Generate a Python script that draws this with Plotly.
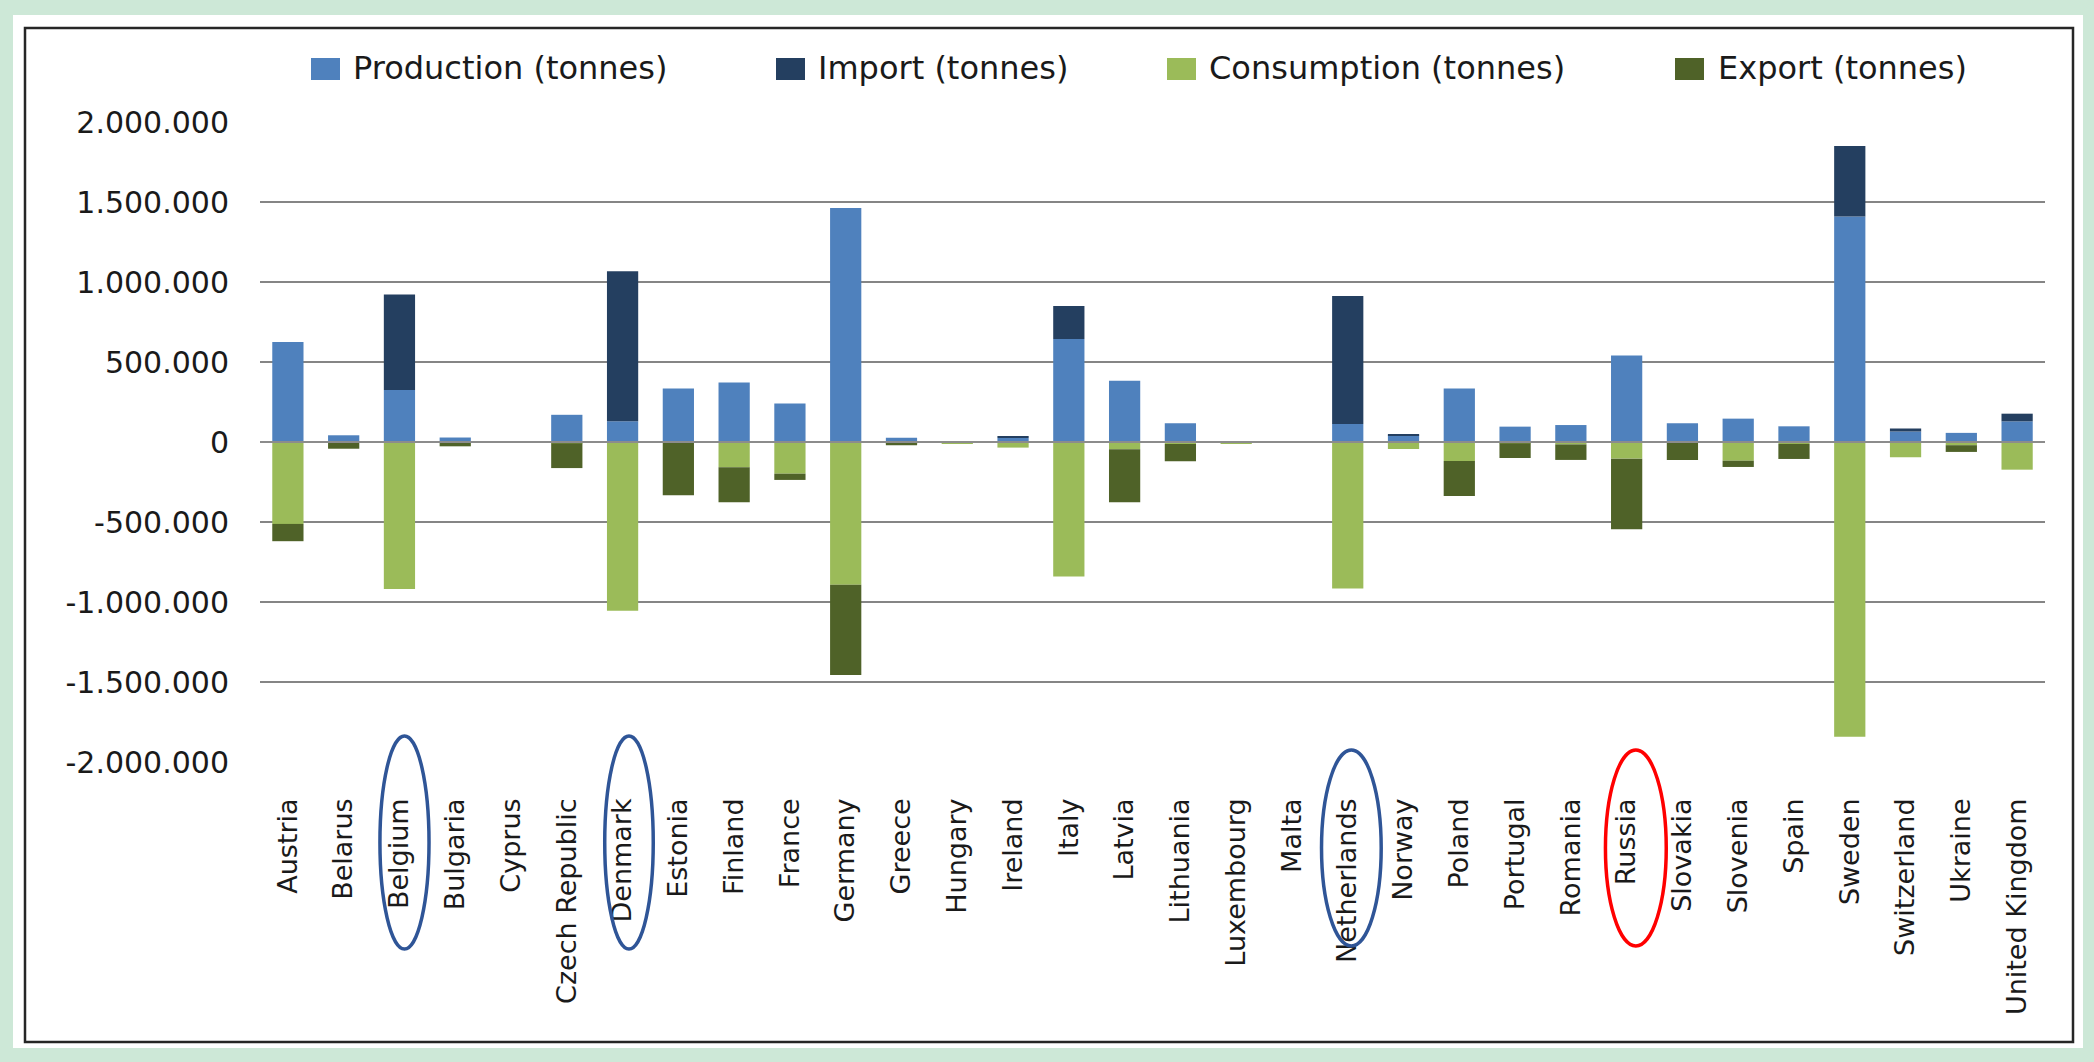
import plotly.graph_objects as go

countries = ["Austria", "Belarus", "Belgium", "Bulgaria", "Cyprus", "Czech Republic", "Denmark",
             "Estonia", "Finland", "France", "Germany", "Greece", "Hungary", "Ireland", "Italy",
             "Latvia", "Lithuania", "Luxembourg", "Malta", "Netherlands", "Norway", "Poland",
             "Portugal", "Romania", "Russia", "Slovakia", "Slovenia", "Spain", "Sweden",
             "Switzerland", "Ukraine", "United Kingdom"]

production = [625000, 42000, 325000, 28000, 0, 170000, 129000, 335000, 372000, 241000, 1463000,
              27000, 5000, 25000, 643000, 383000, 117000, 0, 0, 113000, 40000, 335000, 96000,
              106000, 541000, 117000, 146000, 98000, 1409000, 65000, 57000, 129000]
imports = [0, 0, 597000, 0, 0, 0, 938000, 0, 0, 0, 0, 0, 0, 10000, 207000, 0, 0, 0, 0, 800000,
           6000, 0, 0, 0, 0, 0, 0, 0, 441000, 20000, 0, 48000]
consumption = [-512000, 0, -918000, -5000, 0, -8000, -1055000, 0, -158000, -198000, -892000,
               -8000, -10000, -35000, -840000, -46000, -12000, -10000, 0, -916000, -44000,
               -119000, -8000, -15000, -104000, -5000, -117000, -12000, -1842000, -96000,
               -20000, -173000]
exports = [-108000, -42000, 0, -22000, 0, -155000, 0, -333000, -219000, -39000, -564000, -12000,
           0, 0, 0, -331000, -108000, 0, 0, 0, 0, -218000, -92000, -97000, -441000, -108000,
           -39000, -94000, 0, 0, -42000, 0]

series_names = ["Production (tonnes)", "Import (tonnes)", "Consumption (tonnes)", "Export (tonnes)"]
series_colors = ["#4F81BD", "#243F60", "#9BBB59", "#4F6228"]

y_tickvals = [2000000, 1500000, 1000000, 500000, 0, -500000, -1000000, -1500000, -2000000]
y_ticktext = ["2.000.000", "1.500.000", "1.000.000", "500.000", "0", "-500.000",
              "-1.000.000", "-1.500.000", "-2.000.000"]

highlight_countries = ["Belgium", "Denmark", "Netherlands", "Russia"]
highlight_colors = ["#2F5597", "#2F5597", "#2F5597", "#FF0000"]

W, H = 2094, 1062
L, R, T, B = 260, 49, 122, 300
PW, PH = W - L - R, H - T - B


def px(x):
    return (x - L) / PW


def py(y):
    return (H - B - y) / PH


FONT = "DejaVu Sans"

fig = go.Figure()
for name, vals, col in zip(series_names, [production, imports, consumption, exports], series_colors):
    fig.add_trace(go.Bar(x=countries, y=vals, name=name, marker=dict(color=col, line=dict(width=0)),
                         showlegend=False))

shapes = []
# outer frame: white inner area on green background, black border
shapes.append(dict(type="rect", xref="paper", yref="paper", x0=px(13), x1=px(2083), y0=py(15), y1=py(1048),
                   fillcolor="white", line=dict(width=0), layer="below"))
shapes.append(dict(type="rect", xref="paper", yref="paper", x0=px(25), x1=px(2073), y0=py(28), y1=py(1042),
                   fillcolor="rgba(0,0,0,0)", line=dict(color="#262626", width=2.5), layer="below"))
# zero line over bars
shapes.append(dict(type="line", xref="paper", yref="y", x0=0, x1=1, y0=0, y1=0,
                   line=dict(color="#8C8C8C", width=2), layer="above"))

# custom legend
legend_marker_x = [311, 776, 1167, 1675]
legend_text_x = [351, 816, 1207, 1716]
annotations = []
for name, col, mx, tx in zip(series_names, series_colors, legend_marker_x, legend_text_x):
    shapes.append(dict(type="rect", xref="paper", yref="paper", x0=px(mx), x1=px(mx + 29),
                       y0=py(80), y1=py(58), fillcolor=col, line=dict(width=0)))
    annotations.append(dict(xref="paper", yref="paper", x=px(tx), y=py(68), text=name,
                            showarrow=False, xanchor="left", yanchor="middle",
                            font=dict(family=FONT, size=32, color="#1A1A1A")))

# highlight ellipses around category labels
ell_offsets = [(-0.35, 0.53, 736, 949), (-0.32, 0.55, 736, 949), (-0.47, 0.60, 750, 946),
               (-0.38, 0.71, 750, 946)]
for c, col, (d0, d1, yt, yb) in zip(highlight_countries, highlight_colors, ell_offsets):
    i = countries.index(c)
    shapes.append(dict(type="circle", xref="x", yref="paper", x0=i + d0, x1=i + d1,
                       y0=py(yb), y1=py(yt), line=dict(color=col, width=3.5), layer="above"))

fig.update_layout(
    width=W, height=H,
    margin=dict(l=L, r=R, t=T, b=B, pad=0),
    barmode="relative",
    bargap=0.44,
    paper_bgcolor="#CDE8D7",
    plot_bgcolor="white",
    shapes=shapes,
    annotations=annotations,
    showlegend=False,
    font=dict(family=FONT, color="#1A1A1A"),
)
fig.update_xaxes(
    type="category", tickangle=-90, showgrid=False, showline=False, zeroline=False,
    ticks="", ticklabelstandoff=30, tickfont=dict(family=FONT, size=27, color="#1A1A1A"),
)
fig.update_yaxes(
    range=[-2000000, 2000000], tickvals=y_tickvals, ticktext=y_ticktext,
    showgrid=True, gridcolor="#858585", gridwidth=2, zeroline=False, showline=False,
    ticks="", ticklabelstandoff=30, tickfont=dict(family=FONT, size=30, color="#1A1A1A"),
)

fig.write_html("out.html", config={"displayModeBar": False},
               post_script="document.body.style.margin='0';document.body.style.overflow='hidden';")
